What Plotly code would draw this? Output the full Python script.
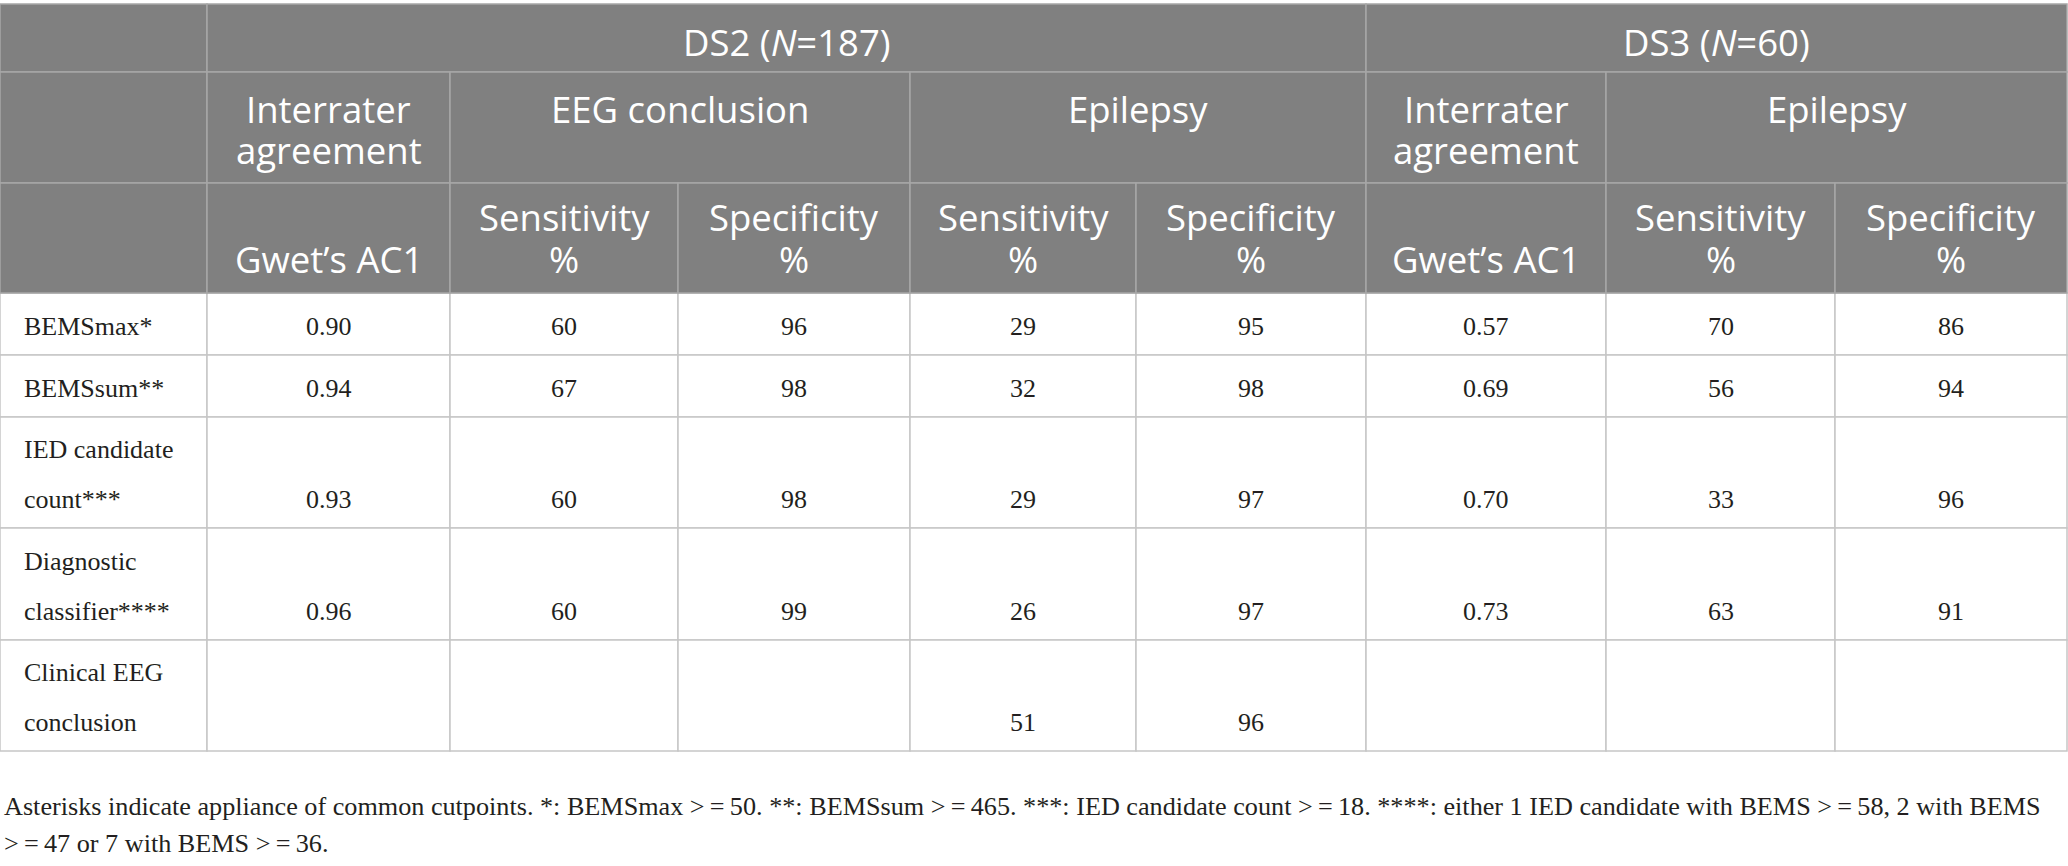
import plotly.graph_objects as go

# header text, one list per header row
groups = ["", "DS2 (<i>N</i>=187)", "DS3 (<i>N</i>=60)"]
subgroups = ["", "Interrater<br>agreement", "EEG conclusion", "Epilepsy",
             "Interrater<br>agreement", "Epilepsy"]
measures = ["", "Gwet’s AC1", "Sensitivity<br>%", "Specificity<br>%",
            "Sensitivity<br>%", "Specificity<br>%", "Gwet’s AC1",
            "Sensitivity<br>%", "Specificity<br>%"]

# body
methods = ["BEMSmax*", "BEMSsum**", "IED candidate<br>count***",
           "Diagnostic<br>classifier****", "Clinical EEG<br>conclusion"]
ds2_ac1 = ["0.90", "0.94", "0.93", "0.96", ""]
ds2_eeg_sens = ["60", "67", "60", "60", ""]
ds2_eeg_spec = ["96", "98", "98", "99", ""]
ds2_epi_sens = ["29", "32", "29", "26", "51"]
ds2_epi_spec = ["95", "98", "97", "97", "96"]
ds3_ac1 = ["0.57", "0.69", "0.70", "0.73", ""]
ds3_epi_sens = ["70", "56", "33", "63", ""]
ds3_epi_spec = ["86", "94", "96", "91", ""]

footnote = ("Asterisks indicate appliance of common cutpoints. *: BEMSmax >\u2009=\u200950. "
            "**: BEMSsum >\u2009=\u2009465. ***: IED candidate count >\u2009=\u200918. "
            "****: either 1 IED candidate with BEMS >\u2009=\u200958, 2 with BEMS"
            "<br>>\u2009=\u200947 or 7 with BEMS >\u2009=\u200936.")

columns = [ds2_ac1, ds2_eeg_sens, ds2_eeg_spec, ds2_epi_sens, ds2_epi_spec,
           ds3_ac1, ds3_epi_sens, ds3_epi_spec]

# geometry of the grid (pixels)
col_x = [0, 207, 450, 678, 910, 1136, 1366, 1606, 1835, 2067]
row_y = [4, 72, 183, 293, 355, 417, 528, 640, 751]
group_span = [(0, 1), (1, 6), (6, 9)]
subgroup_span = [(0, 1), (1, 2), (2, 4), (4, 6), (6, 7), (7, 9)]

HEAD_BG = "#808080"
HEAD_LINE = "#a6a6a6"
BODY_LINE = "#c6c6c6"
TEXT = "#231f20"
head_font = dict(family="Open Sans", size=36.5, color="white")
body_font = dict(family="Liberation Serif", size=26, color=TEXT)
note_font = dict(family="Liberation Serif", size=26.2, color=TEXT)

fig = go.Figure()


def cell(x0, x1, y0, y1, fill, line):
    fig.add_shape(type="rect", xref="x", yref="y", x0=x0, x1=x1, y0=y0, y1=y1,
                  fillcolor=fill, line=dict(color=line, width=1.5), layer="below")


def text(x, baseline, s, font, cap, xanchor="center"):
    fig.add_annotation(x=x, y=baseline - cap, xref="x", yref="y", text=s,
                       showarrow=False, xanchor=xanchor, yanchor="middle", font=font)


head_cap = 0.357 * head_font["size"]
body_cap = 0.33 * body_font["size"]

# body cells first, header on top
for r in range(len(methods)):
    y0, y1 = row_y[3 + r], row_y[4 + r]
    for c in range(9):
        cell(col_x[c], col_x[c + 1], y0, y1, "white", BODY_LINE)

# header row 1
for (a, b), s in zip(group_span, groups):
    cell(col_x[a], col_x[b], row_y[0], row_y[1], HEAD_BG, HEAD_LINE)
    if s:
        text((col_x[a] + col_x[b]) / 2, 55, s, head_font, head_cap)

# header row 2 (top aligned)
for (a, b), s in zip(subgroup_span, subgroups):
    cell(col_x[a], col_x[b], row_y[1], row_y[2], HEAD_BG, HEAD_LINE)
    for i, line in enumerate(s.split("<br>")):
        if line:
            text((col_x[a] + col_x[b]) / 2, 121.7 + 41.7 * i, line, head_font, head_cap)

# header row 3 (bottom aligned)
for c, s in enumerate(measures):
    cell(col_x[c], col_x[c + 1], row_y[2], row_y[3], HEAD_BG, HEAD_LINE)
    lines = s.split("<br>")
    for i, line in enumerate(lines):
        if line:
            text((col_x[c] + col_x[c + 1]) / 2, 272 - 41.7 * (len(lines) - 1 - i),
                 line, head_font, head_cap)

# body text (bottom aligned)
for r, label in enumerate(methods):
    last = row_y[4 + r] - 20
    lines = label.split("<br>")
    for i, line in enumerate(lines):
        text(21.7, last - 50 * (len(lines) - 1 - i), line, body_font, body_cap, "left")
    for c, col in enumerate(columns):
        if col[r]:
            text((col_x[c + 1] + col_x[c + 2]) / 2, last, col[r], body_font, body_cap)

# footnote
for i, line in enumerate(footnote.split("<br>")):
    text(2, 815 + 36.7 * i, line, note_font, body_cap, "left")

fig.update_layout(
    width=2068, height=866,
    margin=dict(l=0, r=0, t=0, b=0),
    paper_bgcolor="white", plot_bgcolor="white",
    xaxis=dict(range=[0, 2068], visible=False, fixedrange=True),
    yaxis=dict(range=[866, 0], visible=False, fixedrange=True),
    showlegend=False,
)

# drop the default page margin so the figure sits at the window's corner
fig.write_html("out.html", config={"displayModeBar": False},
               post_script="document.body.style.margin='0';document.body.style.overflow='hidden';")
